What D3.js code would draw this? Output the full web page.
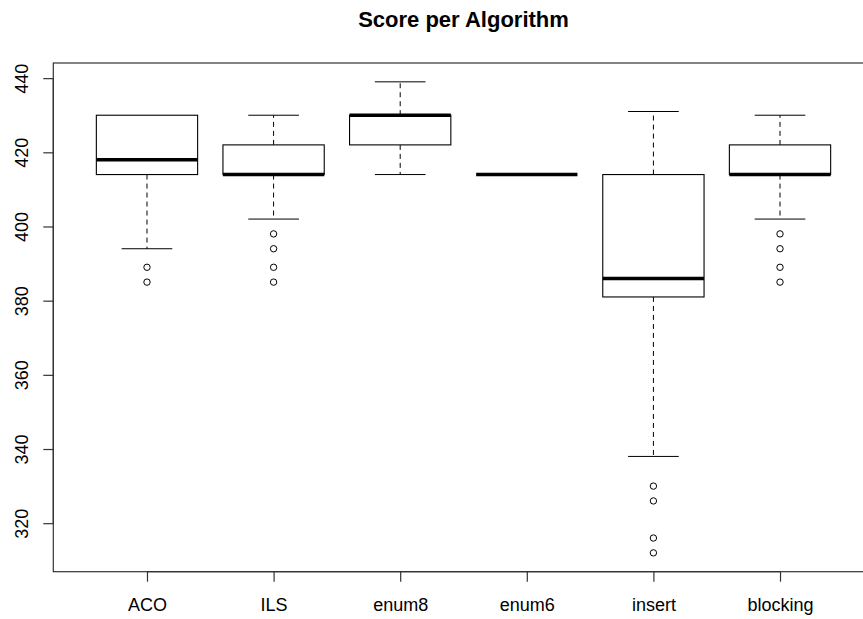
<!DOCTYPE html>
<html>
<head>
<meta charset="utf-8">
<script src="https://cdn.jsdelivr.net/npm/d3@7"></script>
<style>
  html, body { margin: 0; padding: 0; background: #fff; }
  svg { display: block; font-family: "Liberation Sans", Arial, sans-serif; }
</style>
</head>
<body>
<svg id="chart" width="863" height="619"></svg>
<script>
const title = "Score per Algorithm";
const categories = ["ACO", "ILS", "enum8", "enum6", "insert", "blocking"];
const whiskerLow  = [394, 402, 414, 414, 338, 402];
const q1          = [414, 414, 422, 414, 381, 414];
const median      = [418, 414, 430, 414, 386, 414];
const q3          = [430, 422, 430, 414, 414, 422];
const whiskerHigh = [430, 430, 439, 414, 431, 430];
const outliers = [
  [389, 385],
  [398, 394, 389, 385],
  [],
  [],
  [330, 326, 316, 312],
  [398, 394, 389, 385]
];
const yTicks = [320, 340, 360, 380, 400, 420, 440];

const svg = d3.select("#chart");
const plotLeft = 53.3, plotRight = 873.7, plotTop = 63, plotBottom = 571.7;

const x = d3.scaleLinear().domain([0.26, categories.length + 0.74]).range([plotLeft, plotRight]);
const y = d3.scaleLinear().domain([306.92, 444.08]).range([plotBottom, plotTop]);

const boxW = x(1.4) - x(1);      // half of box width = 0.4 units
const capW = x(1.2) - x(1);      // half of staple width = 0.2 units

// Title
svg.append("text")
  .attr("x", (plotLeft + plotRight) / 2)
  .attr("y", 27)
  .attr("text-anchor", "middle")
  .attr("font-weight", "bold")
  .attr("font-size", "22px")
  .attr("fill", "#000")
  .text(title);

// Plot frame
svg.append("rect")
  .attr("x", plotLeft).attr("y", plotTop)
  .attr("width", plotRight - plotLeft).attr("height", plotBottom - plotTop)
  .attr("fill", "none").attr("stroke", "#333").attr("stroke-width", 1.2);

// Y axis
const yAxis = d3.axisLeft(y).tickValues(yTicks).tickSize(10).tickPadding(0).tickSizeOuter(0);
const gy = svg.append("g").attr("transform", `translate(${plotLeft},0)`).call(yAxis);
gy.select(".domain").attr("d", `M0,${y(yTicks[0])}V${y(yTicks[yTicks.length-1])}`).attr("stroke", "#333").attr("stroke-width", 1.2);
gy.selectAll(".tick line").attr("stroke", "#333").attr("stroke-width", 1.2);
gy.selectAll(".tick text")
  .attr("font-size", "18px")
  .attr("font-family", "'Liberation Sans', Arial, sans-serif")
  .attr("fill", "#000")
  .attr("text-anchor", "middle")
  .attr("x", null).attr("dy", null)
  .attr("transform", "translate(-25,0) rotate(-90)")
  .attr("y", 0);

// X axis
const xAxis = d3.axisBottom(x).tickValues(d3.range(1, categories.length + 1))
  .tickFormat(d => categories[d - 1]).tickSize(10).tickPadding(17).tickSizeOuter(0);
const gx = svg.append("g").attr("transform", `translate(0,${plotBottom})`).call(xAxis);
gx.select(".domain").attr("d", `M${x(1)},0H${x(categories.length)}`).attr("stroke", "#333").attr("stroke-width", 1.2);
gx.selectAll(".tick line").attr("stroke", "#333").attr("stroke-width", 1.2);
gx.selectAll(".tick text")
  .attr("font-size", "18px")
  .attr("font-family", "'Liberation Sans', Arial, sans-serif")
  .attr("fill", "#000");

// Boxes
const data = categories.map((c, i) => ({
  i: i + 1, lo: whiskerLow[i], q1: q1[i], med: median[i], q3: q3[i], hi: whiskerHigh[i], out: outliers[i]
}));

const g = svg.append("g");
data.forEach(d => {
  const cx = x(d.i);
  if (d.hi > d.q3) {
    g.append("line").attr("x1", cx).attr("x2", cx).attr("y1", y(d.q3)).attr("y2", y(d.hi))
      .attr("stroke", "#000").attr("stroke-width", 1).attr("stroke-dasharray", "5,4");
    g.append("line").attr("x1", cx - capW).attr("x2", cx + capW).attr("y1", y(d.hi)).attr("y2", y(d.hi))
      .attr("stroke", "#000").attr("stroke-width", 1);
  }
  if (d.lo < d.q1) {
    g.append("line").attr("x1", cx).attr("x2", cx).attr("y1", y(d.q1)).attr("y2", y(d.lo))
      .attr("stroke", "#000").attr("stroke-width", 1).attr("stroke-dasharray", "5,4");
    g.append("line").attr("x1", cx - capW).attr("x2", cx + capW).attr("y1", y(d.lo)).attr("y2", y(d.lo))
      .attr("stroke", "#000").attr("stroke-width", 1);
  }
  if (d.q3 > d.q1) {
    g.append("rect").attr("x", cx - boxW).attr("y", y(d.q3))
      .attr("width", 2 * boxW).attr("height", y(d.q1) - y(d.q3))
      .attr("fill", "#fff").attr("stroke", "#000").attr("stroke-width", 1.1);
  }
  g.append("line").attr("x1", cx - boxW).attr("x2", cx + boxW).attr("y1", y(d.med)).attr("y2", y(d.med))
    .attr("stroke", "#000").attr("stroke-width", 3.5);
  d.out.forEach(v => {
    g.append("circle").attr("cx", cx).attr("cy", y(v)).attr("r", 3.2)
      .attr("fill", "none").attr("stroke", "#000").attr("stroke-width", 1);
  });
});
</script>
</body>
</html>
